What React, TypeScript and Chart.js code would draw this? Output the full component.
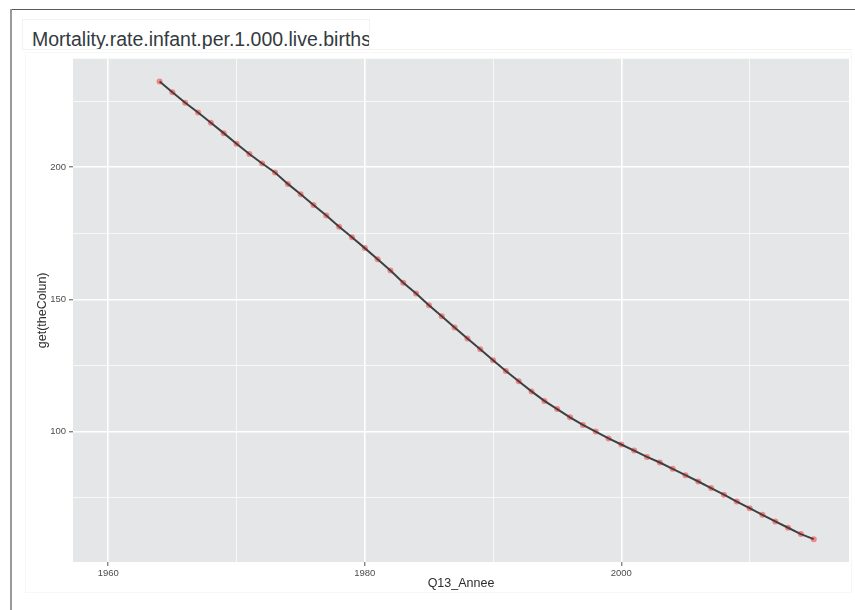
import React, { useEffect, useRef } from "react";
import { Chart, registerables } from "chart.js";

Chart.register(...registerables);

const years = [
  1964, 1965, 1966, 1967, 1968, 1969, 1970, 1971, 1972, 1973, 1974, 1975, 1976,
  1977, 1978, 1979, 1980, 1981, 1982, 1983, 1984, 1985, 1986, 1987, 1988, 1989,
  1990, 1991, 1992, 1993, 1994, 1995, 1996, 1997, 1998, 1999, 2000, 2001, 2002,
  2003, 2004, 2005, 2006, 2007, 2008, 2009, 2010, 2011, 2012, 2013, 2014, 2015,
];
const mortality = [
  232.4, 228.4, 224.4, 220.7, 216.8, 212.9, 208.9, 205.0, 201.4, 198.0, 193.7,
  189.8, 185.7, 181.7, 177.5, 173.5, 169.4, 165.2, 160.9, 156.3, 152.2, 147.8,
  143.6, 139.4, 135.2, 131.1, 127.0, 122.9, 119.0, 115.2, 111.6, 108.5, 105.4,
  102.5, 100.0, 97.4, 95.1, 92.8, 90.4, 88.3, 85.9, 83.5, 81.1, 78.6, 76.1,
  73.5, 71.0, 68.5, 66.0, 63.6, 61.2, 59.3,
];
const xTicks = [1960, 1970, 1980, 1990, 2000, 2010];
const xMajorTicks = [1960, 1980, 2000];
const yTicks = [75, 100, 125, 150, 175, 200, 225];
const yMajorTicks = [100, 150, 200];
const chartTitle = "Mortality.rate.infant.per.1.000.live.births";
const xTitle = "Q13_Annee";
const yTitle = "get(theColun)";

const FONT = "'Liberation Sans', Arial, sans-serif";

export default function App() {
  const canvasRef = useRef<HTMLCanvasElement | null>(null);

  useEffect(() => {
    const canvas = canvasRef.current;
    if (!canvas) return;
    const pts = years.map((x, i) => ({ x, y: mortality[i] }));

    const panelBg = {
      id: "panelBg",
      beforeDraw(chart: any) {
        const { ctx, chartArea } = chart;
        ctx.save();
        ctx.fillStyle = "#E5E6E8";
        ctx.fillRect(
          chartArea.left,
          chartArea.top,
          chartArea.right - chartArea.left,
          chartArea.bottom - chartArea.top
        );
        ctx.restore();
      },
    };

    const isXMajor = (v: number) => xMajorTicks.includes(v);
    const isYMajor = (v: number) => yMajorTicks.includes(v);

    const chart = new Chart(canvas, {
      type: "line",
      data: {
        datasets: [
          {
            label: "line",
            data: pts,
            borderColor: "#404040",
            borderWidth: 2,
            pointRadius: 0,
            tension: 0,
            order: 1,
          },
          {
            label: "points",
            data: pts,
            showLine: false,
            pointRadius: 3,
            pointBackgroundColor: "rgba(255,55,55,0.55)",
            pointBorderWidth: 0,
            order: 2,
          },
        ],
      },
      options: {
        animation: false,
        responsive: false,
        maintainAspectRatio: false,
        layout: { padding: { top: 58.7, right: 6, left: 0, bottom: 0 } },
        plugins: {
          legend: { display: false },
          tooltip: { enabled: false },
        },
        scales: {
          x: {
            type: "linear",
            min: 1957.25,
            max: 2017.75,
            afterBuildTicks: (s: any) => {
              s.ticks = xTicks.map((v) => ({ value: v }));
            },
            afterFit: (s: any) => {
              s.height = 48;
            },
            border: { display: false },
            grid: {
              color: "#ffffff",
              lineWidth: (c: any) => (isXMajor(c.tick?.value) ? 1.6 : 0.7),
              tickColor: (c: any) =>
                isXMajor(c.tick?.value) ? "#555555" : "rgba(0,0,0,0)",
              tickWidth: 1,
              tickLength: 4,
            },
            ticks: {
              autoSkip: false,
              maxRotation: 0,
              padding: 2,
              color: "#4d4d4d",
              font: { family: FONT, size: 9.5 },
              callback: (v: any) => (isXMajor(Number(v)) ? String(v) : ""),
            },
            title: {
              display: true,
              text: xTitle,
              color: "#2e2e2e",
              font: { family: FONT, size: 12.5 },
              padding: { top: 0, bottom: 18.5 },
            },
          },
          y: {
            type: "linear",
            min: 50.65,
            max: 241.06,
            afterBuildTicks: (s: any) => {
              s.ticks = yTicks.map((v) => ({ value: v }));
            },
            afterFit: (s: any) => {
              s.width = 73;
            },
            border: { display: false },
            grid: {
              color: "#ffffff",
              lineWidth: (c: any) => (isYMajor(c.tick?.value) ? 1.6 : 0.7),
              tickColor: (c: any) =>
                isYMajor(c.tick?.value) ? "#555555" : "rgba(0,0,0,0)",
              tickWidth: 1,
              tickLength: 4,
            },
            ticks: {
              autoSkip: false,
              padding: 3,
              color: "#4d4d4d",
              font: { family: FONT, size: 9.5 },
              callback: (v: any) => (isYMajor(Number(v)) ? String(v) : ""),
            },
            title: {
              display: true,
              text: yTitle,
              color: "#2e2e2e",
              font: { family: FONT, size: 12.5 },
              padding: { top: 35.5, bottom: 0 },
            },
          },
        },
      },
      plugins: [panelBg],
    } as any);

    return () => chart.destroy();
  }, []);

  return (
    <div
      style={{
        position: "absolute",
        left: 0,
        top: 0,
        width: 855,
        height: 610,
        background: "#ffffff",
        overflow: "hidden",
      }}
    >
      {/* faint outer plot box */}
      <div
        style={{
          position: "absolute",
          left: 25,
          top: 52,
          width: 827,
          height: 541,
          border: "1px solid #f7f7f7",
          boxSizing: "border-box",
        }}
      />
      <canvas
        ref={canvasRef}
        width={855}
        height={610}
        style={{ position: "absolute", left: 0, top: 0, width: 855, height: 610 }}
      />
      {/* frame lines */}
      <div
        style={{
          position: "absolute",
          left: 10,
          top: 9,
          width: 845,
          height: 1,
          background: "#5a5a5a",
        }}
      />
      <div
        style={{
          position: "absolute",
          left: 10,
          top: 9,
          width: 2,
          height: 601,
          background: "#9a9a9a",
        }}
      />
      {/* line under title */}
      <div
        style={{
          position: "absolute",
          left: 22,
          top: 49,
          width: 830,
          height: 1,
          background: "#f2f2f2",
        }}
      />
      {/* title box */}
      <div
        style={{
          position: "absolute",
          left: 22,
          top: 19,
          width: 348,
          height: 31,
          border: "1px solid #f2f2f2",
          boxSizing: "border-box",
          background: "#ffffff",
          overflow: "hidden",
        }}
      >
        <div
          style={{
            position: "absolute",
            left: 9,
            top: 8,
            whiteSpace: "nowrap",
            fontFamily: FONT,
            fontSize: 19.5,
            lineHeight: "22px",
            color: "#333a40",
          }}
        >
          {chartTitle}
        </div>
      </div>
    </div>
  );
}
